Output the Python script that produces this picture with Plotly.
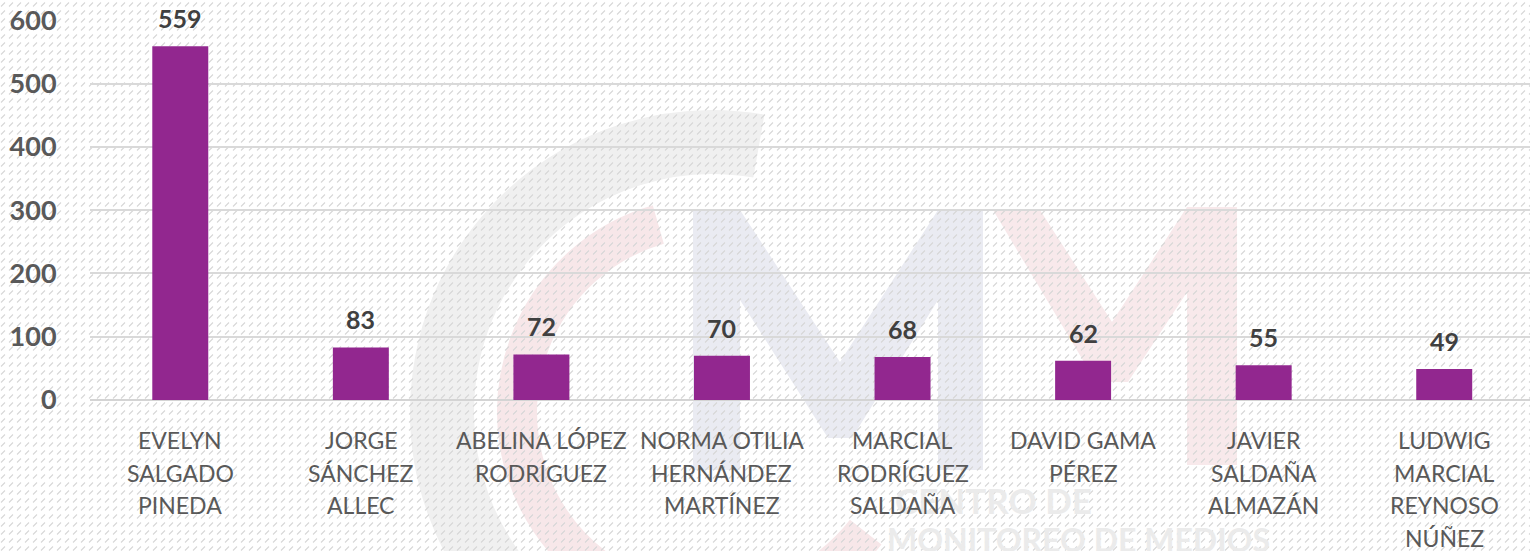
import base64
import math
import plotly.graph_objects as go

# data
names = ["EVELYN<br>SALGADO<br>PINEDA",
         "JORGE<br>SÁNCHEZ<br>ALLEC",
         "ABELINA LÓPEZ<br>RODRÍGUEZ",
         "NORMA OTILIA<br>HERNÁNDEZ<br>MARTÍNEZ",
         "MARCIAL<br>RODRÍGUEZ<br>SALDAÑA",
         "DAVID GAMA<br>PÉREZ",
         "JAVIER<br>SALDAÑA<br>ALMAZÁN",
         "LUDWIG<br>MARCIAL<br>REYNOSO<br>NÚÑEZ"]
values = [559, 83, 72, 70, 68, 62, 55, 49]
y_ticks = [0, 100, 200, 300, 400, 500, 600]

W, H = 1530, 551
BAR = "#92278F"
FONT = "Lato"


def arc(cx, cy, r, a0, a1):
    # svg arc from angle a0 to a1 (degrees, screen coords), clockwise
    x0 = cx + r * math.cos(math.radians(a0))
    y0 = cy + r * math.sin(math.radians(a0))
    x1 = cx + r * math.cos(math.radians(a1))
    y1 = cy + r * math.sin(math.radians(a1))
    large = 1 if (a1 - a0) % 360 > 180 else 0
    return "M %.1f %.1f A %d %d 0 %d 1 %.1f %.1f" % (x0, y0, r, r, large, x1, y1)


def poly(pts):
    return "M " + " L ".join("%d %d" % p for p in pts) + " Z"


# faint logo watermark + diagonal hatch, like the original slide background
m_left = [(693, 210), (740, 210), (840, 362), (938, 210), (983, 210), (983, 470), (938, 470),
          (938, 300), (852, 438), (828, 438), (740, 300), (740, 470), (693, 470)]
m_right = [(993, 210), (1040, 210), (1112, 322), (1187, 207), (1237, 207), (1237, 465),
           (1187, 465), (1187, 292), (1128, 382), (1096, 382)]
svg = f'''<svg xmlns="http://www.w3.org/2000/svg" width="{W}" height="{H}" viewBox="0 0 {W} {H}">
<defs><pattern id="h" width="8" height="8" patternUnits="userSpaceOnUse">
<line x1="1" y1="6.5" x2="5" y2="2.5" stroke="#d6d6d6" stroke-width="1.1"/></pattern></defs>
<rect width="{W}" height="{H}" fill="#ffffff"/>
<path d="{arc(712, 412, 270, 40, 280)}" fill="none" stroke="#f0f0f0" stroke-width="64"/>
<path d="{arc(712, 412, 195, 38, 254)}" fill="none" stroke="#f7e7e9" stroke-width="40"/>
<path d="{poly(m_left)}" fill="#eaebf2"/>
<path d="{poly(m_right)}" fill="#f8e9eb"/>
<rect width="{W}" height="{H}" fill="url(#h)"/>
</svg>'''
bg_src = "data:image/svg+xml;base64," + base64.b64encode(svg.encode("utf-8")).decode("ascii")

fig = go.Figure()
fig.add_trace(go.Bar(x=names, y=values, marker_color=BAR, marker_line_width=0,
                     width=0.31, hoverinfo="skip"))

annotations = []
# watermark text (under the labels)
annotations.append(dict(text="CENTRO DE", xref="paper", yref="paper", x=893 / W, y=1 - 500 / H,
                        xanchor="left", yanchor="middle", showarrow=False,
                        font=dict(family=FONT, size=35, color="#ebebeb", weight="bold")))
annotations.append(dict(text="MONITOREO DE MEDIOS", xref="paper", yref="paper", x=885 / W, y=1 - 539 / H,
                        xanchor="left", yanchor="middle", showarrow=False,
                        font=dict(family=FONT, size=32, color="#ebebeb", weight="bold")))

# value labels above bars
for n, v in zip(names, values):
    annotations.append(dict(text=str(v), x=n, y=v, xref="x", yref="y", yanchor="middle",
                            yshift=28, showarrow=False,
                            font=dict(family=FONT, size=25, color="#404040", weight="bold")))

# category labels, one annotation per line to get the wide line spacing
for n in names:
    for j, line in enumerate(n.split("<br>")):
        annotations.append(dict(text=line, x=n, y=0, xref="x", yref="y", yanchor="middle",
                                yshift=-(40 + 32.5 * j), showarrow=False,
                                font=dict(family=FONT, size=23, color="#595959")))

fig.update_layout(
    width=W, height=H,
    margin=dict(l=0, r=0, t=0, b=0),
    paper_bgcolor="rgba(0,0,0,0)",
    plot_bgcolor="rgba(0,0,0,0)",
    showlegend=False,
    bargap=0.69,
    annotations=annotations,
    images=[dict(source=bg_src, xref="paper", yref="paper", x=0, y=1, sizex=1, sizey=1,
                 xanchor="left", yanchor="top", sizing="stretch", layer="below")],
    xaxis=dict(domain=[90 / W, 1], type="category", range=[-0.5, 7.475],
               showticklabels=False, showgrid=False, zeroline=False, showline=False,
               fixedrange=True, automargin=False),
    yaxis=dict(domain=[1 - 400 / H, 1 - 20 / H], range=[0, 600.5], tickvals=y_ticks,
               showgrid=True, gridcolor="#d9d9d9", gridwidth=1.6,
               zeroline=True, zerolinecolor="#d4d4d4", zerolinewidth=1.8,
               showline=False, ticks="outside", ticklen=27, tickcolor="rgba(0,0,0,0)",
               tickfont=dict(family=FONT, size=27, color="#595959", weight="bold"),
               fixedrange=True, automargin=False),
)

# drop the default page margin so the figure sits at the window's top-left corner
fig.write_html("out.html", config={"displayModeBar": False},
               post_script="document.body.style.margin='0';document.body.style.overflow='hidden';")
